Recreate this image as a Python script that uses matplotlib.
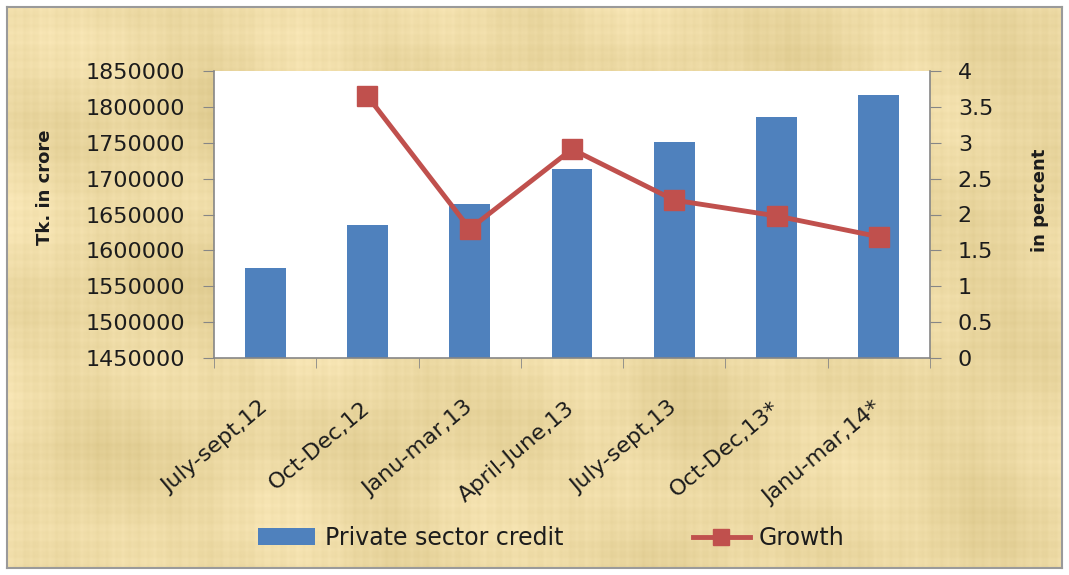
import numpy as np
import matplotlib
matplotlib.use('Agg')
import matplotlib.pyplot as plt
from matplotlib.patches import Patch
from matplotlib.lines import Line2D
from matplotlib.transforms import ScaledTranslation

periods = ['July-sept,12', 'Oct-Dec,12', 'Janu-mar,13', 'April-June,13',
           'July-sept,13', 'Oct-Dec,13*', 'Janu-mar,14*']
credit = [1575000, 1635000, 1664000, 1713000, 1751000, 1786000, 1816000]
growth = [np.nan, 3.65, 1.80, 2.91, 2.20, 1.98, 1.69]

credit_ticks = list(range(1450000, 1850001, 50000))
growth_ticks = [0, 0.5, 1, 1.5, 2, 2.5, 3, 3.5, 4]
growth_labels = ['0', '0.5', '1', '1.5', '2', '2.5', '3', '3.5', '4']

blue = '#4F81BD'
red = '#C0504D'
grey = '#868686'
ink = '#1c1c1c'

W, H = 1069, 575
fig = plt.figure(figsize=(W / 100, H / 100), dpi=100)
fig.patch.set_facecolor('white')

# papyrus-like backdrop behind the chart
bw, bh = 1055, 561
bg = fig.add_axes([7 / W, 7 / H, bw / W, bh / H], zorder=-10)
yy, xx = np.mgrid[0:bh, 0:bw].astype(float)
cols = (0.35 * np.sin(0.61 * xx) + 0.30 * np.sin(0.173 * xx + 1.1)
        + 0.35 * np.sin(0.0413 * xx + 2.0) + 0.15 * np.sin(1.37 * xx + 0.4))
rows = (0.35 * np.sin(0.57 * yy + 0.3) + 0.30 * np.sin(0.191 * yy + 2.2)
        + 0.35 * np.sin(0.0371 * yy + 0.7) + 0.15 * np.sin(1.29 * yy))
blots = (np.sin(0.013 * xx + 0.021 * yy) * np.sin(0.017 * yy - 0.009 * xx + 1.3)
         + 0.5 * np.sin(0.031 * xx - 0.027 * yy + 0.5))
shade = 4.0 * cols + 3.5 * rows + 6.0 * blots
base = np.array([236, 217, 163], dtype=float)
tone = np.array([1.0, 1.08, 1.5])
img = np.clip(base[None, None, :] + shade[..., None] * tone[None, None, :], 0, 255) / 255
bg.imshow(img, aspect='auto', interpolation='bilinear')
bg.set_xticks([])
bg.set_yticks([])
for s in bg.spines.values():
    s.set_color('#9a9a9a')
    s.set_linewidth(1.5)

ax = fig.add_axes([214 / W, 1 - 358 / H, (930 - 214) / W, (358 - 71) / H])
x = np.arange(len(periods))
ax.bar(x, credit, width=0.4, color=blue, zorder=2)
ax.set_xlim(-0.5, len(periods) - 0.5)
ax.set_ylim(1450000, 1850000)
ax.set_yticks(credit_ticks)
ax.set_yticklabels([str(v) for v in credit_ticks])
ax.set_facecolor('white')

ax.set_xticks(x)
ax.set_xticklabels(periods, rotation=40, ha='right', va='center',
                   rotation_mode='anchor', fontsize=16, color=ink)
shift = ScaledTranslation(10 / 100, 0, fig.dpi_scale_trans)
for lab in ax.get_xticklabels():
    lab.set_transform(lab.get_transform() + shift)
ax.set_xticks(np.arange(-0.5, len(periods)), minor=True)
ax.tick_params(axis='x', which='major', length=0, pad=34)
ax.tick_params(axis='x', which='minor', length=7, color=grey, direction='out')
ax.tick_params(axis='y', length=8, color=grey, direction='out', pad=13,
               labelsize=16, labelcolor=ink)

for side in ['top', 'right']:
    ax.spines[side].set_visible(False)
for side in ['left', 'bottom']:
    ax.spines[side].set_color(grey)
    ax.spines[side].set_linewidth(1.2)

ax2 = ax.twinx()
ax2.plot(x, growth, color=red, lw=3.5, marker='s', ms=14, zorder=3)
ax2.set_ylim(0, 4)
ax2.set_yticks(growth_ticks)
ax2.set_yticklabels(growth_labels)
ax2.tick_params(axis='y', length=8, color=grey, direction='out', pad=12,
                labelsize=16, labelcolor=ink)
for side in ['top', 'left', 'bottom']:
    ax2.spines[side].set_visible(False)
ax2.spines['right'].set_color(grey)
ax2.spines['right'].set_linewidth(1.2)

fig.text(0.042, 1 - 187 / H, 'Tk. in crore', rotation=90, ha='center',
         va='center', fontsize=13, fontweight='bold', color=ink)
fig.text(0.973, 1 - 200 / H, 'in percent', rotation=90, ha='center',
         va='center', fontsize=13, fontweight='bold', color=ink)

handles = [Patch(facecolor=blue),
           Line2D([], [], color=red, lw=3.5, marker='s', ms=12)]
fig.legend(handles, ['Private sector credit', 'Growth'], loc='center',
           bbox_to_anchor=(0.516, 1 - 538 / H), ncol=2, frameon=False,
           fontsize=17, handlelength=2.4, handletextpad=0.4,
           columnspacing=5.5, labelcolor=ink)

fig.savefig('out.png', dpi=100)
